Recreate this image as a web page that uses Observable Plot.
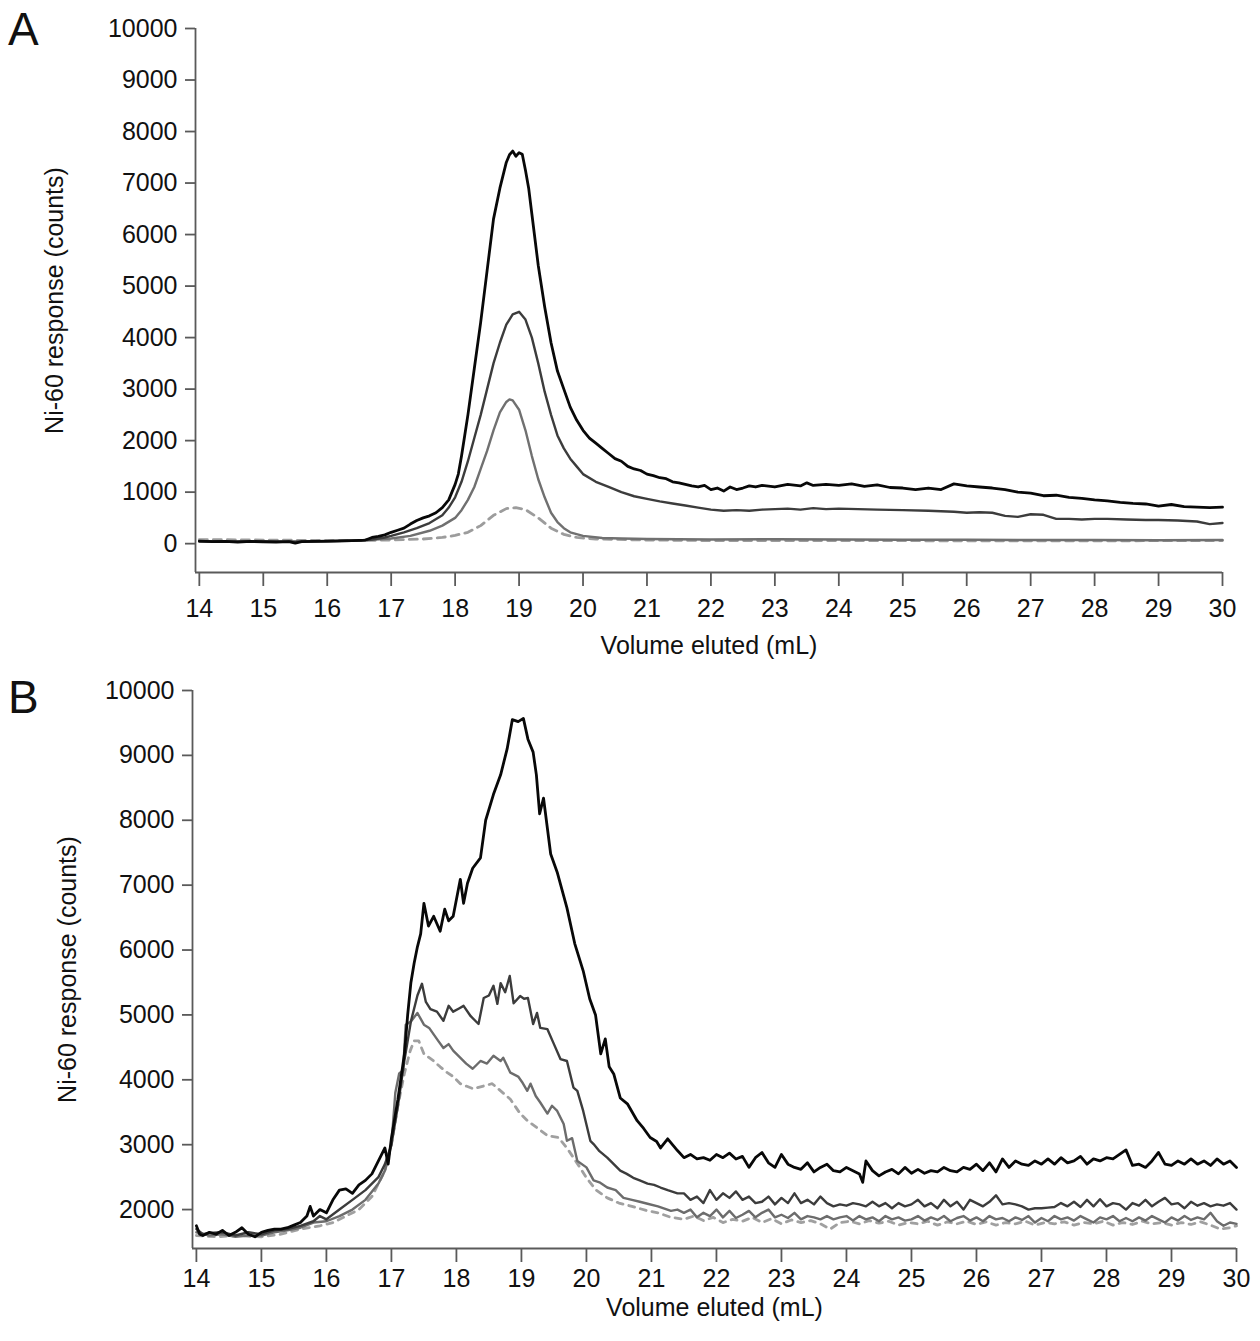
<!DOCTYPE html>
<html>
<head>
<meta charset="utf-8">
<script src="https://cdn.jsdelivr.net/npm/d3@7"></script>
<script src="https://cdn.jsdelivr.net/npm/@observablehq/plot@0.6"></script>
<style>
  html, body { margin: 0; padding: 0; background: #fff; }
  #page { position: relative; width: 1260px; height: 1341px; font-family: "Liberation Sans", Arial, sans-serif; }
  .panel { position: absolute; left: 0; z-index: 1; }
  .tag { position: absolute; left: 8px; font-size: 46px; color: #111; line-height: 1; z-index: 5; }
</style>
</head>
<body>
<div id="page">
  <div class="tag" style="top:6px">A</div>
  <div class="tag" style="top:674px">B</div>
  <div id="pa" class="panel" style="top:0px"></div>
  <div id="pb" class="panel" style="top:665px"></div>
</div>
<script>
// ---------- shared ----------
const xTicks = [14,15,16,17,18,19,20,21,22,23,24,25,26,27,28,29,30];
const yTicks = [0,1000,2000,3000,4000,5000,6000,7000,8000,9000,10000];
const xLabel = "Volume eluted (mL)";
const yLabel = "Ni-60 response (counts)";

// ---------- Panel A ----------
const aX1 = [14.0,14.2,14.4,14.6,14.8,15.0,15.2,15.4,15.5,15.6,15.8,16.0,16.2,16.4,16.6,16.7,16.8,16.9,17.0,17.1,17.2,17.3,17.4,17.5,17.6,17.7,17.8,17.9,18.0,18.05,18.1,18.15,18.2,18.3,18.4,18.5,18.6,18.7,18.8,18.85,18.9,18.95,19.0,19.05,19.1,19.15,19.2,19.3,19.4,19.5,19.6,19.7,19.8,19.9,20.0,20.1,20.2,20.3,20.4,20.5,20.6,20.7,20.8,20.9,21.0,21.1,21.2,21.3,21.4,21.5,21.6,21.7,21.8,21.9,22.0,22.1,22.2,22.3,22.4,22.5,22.6,22.7,22.8,23.0,23.2,23.4,23.5,23.6,23.8,24.0,24.2,24.4,24.6,24.8,25.0,25.2,25.4,25.6,25.8,26.0,26.2,26.4,26.6,26.8,27.0,27.2,27.4,27.6,27.8,28.0,28.2,28.4,28.6,28.8,29.0,29.2,29.4,29.6,29.8,30.0];
const aY1 = [50,40,45,30,45,35,30,40,10,40,45,50,55,60,70,120,140,170,220,260,300,380,450,500,540,600,700,850,1150,1350,1700,2100,2500,3400,4300,5300,6300,6900,7400,7550,7620,7520,7590,7560,7250,6900,6400,5400,4600,3900,3350,3000,2650,2400,2200,2050,1950,1850,1750,1650,1600,1500,1450,1420,1350,1320,1280,1260,1200,1180,1150,1120,1100,1130,1050,1080,1020,1100,1050,1080,1120,1100,1130,1100,1150,1120,1180,1130,1150,1130,1160,1110,1140,1090,1080,1050,1080,1050,1160,1120,1100,1080,1050,1000,980,930,940,900,880,850,830,800,780,770,730,760,720,710,700,710];

const aX2 = [14.0,14.5,15.0,15.5,16.0,16.5,16.7,16.9,17.0,17.2,17.4,17.6,17.8,17.9,18.0,18.1,18.2,18.3,18.4,18.5,18.6,18.7,18.8,18.9,19.0,19.1,19.2,19.3,19.4,19.5,19.6,19.7,19.8,19.9,20.0,20.2,20.4,20.6,20.8,21.0,21.2,21.4,21.6,21.8,22.0,22.2,22.4,22.6,22.8,23.0,23.2,23.4,23.6,23.8,24.0,24.3,24.6,25.0,25.4,25.8,26.0,26.2,26.4,26.6,26.8,27.0,27.2,27.4,27.6,27.8,28.0,28.2,28.5,28.8,29.0,29.3,29.6,29.8,30.0];
const aY2 = [50,45,50,40,50,60,80,120,150,220,300,400,550,700,900,1200,1600,2050,2500,3000,3500,3900,4250,4450,4500,4350,4000,3500,2950,2500,2100,1850,1650,1500,1350,1200,1100,1000,920,870,820,780,740,700,660,640,650,640,660,670,680,660,690,670,680,670,660,650,640,620,600,610,600,540,520,570,560,480,480,470,480,480,470,460,460,450,430,380,400];

const aX3 = [14.0,15.0,16.0,16.5,17.0,17.3,17.6,17.8,18.0,18.1,18.2,18.3,18.4,18.5,18.6,18.7,18.8,18.85,18.9,19.0,19.1,19.2,19.3,19.4,19.5,19.6,19.7,19.8,20.0,20.3,20.6,21.0,22.0,23.0,24.0,25.0,26.0,27.0,28.0,29.0,30.0];
const aY3 = [40,40,40,60,100,150,250,350,500,650,850,1100,1450,1800,2200,2550,2750,2800,2780,2600,2200,1700,1250,900,600,420,300,220,150,110,100,90,80,85,80,75,75,70,70,65,70];

const aX4 = [14.0,15.0,16.0,16.5,17.0,17.5,17.8,18.0,18.2,18.4,18.6,18.8,18.95,19.1,19.3,19.5,19.7,19.9,20.2,21.0,22.0,24.0,26.0,28.0,30.0];
const aY4 = [80,70,60,60,70,90,120,160,220,350,550,680,700,660,500,300,180,120,90,70,60,60,55,55,60];

// ---------- Panel B ----------
const bX1 = [14.0,14.05,14.1,14.2,14.3,14.4,14.5,14.6,14.7,14.8,14.9,15.0,15.1,15.2,15.3,15.4,15.5,15.6,15.7,15.75,15.8,15.9,16.0,16.1,16.2,16.3,16.4,16.5,16.6,16.7,16.8,16.9,16.95,17.0,17.1,17.2,17.25,17.3,17.35,17.4,17.45,17.5,17.57,17.65,17.75,17.82,17.88,17.95,18.06,18.11,18.17,18.25,18.37,18.45,18.57,18.68,18.78,18.86,18.95,19.03,19.1,19.18,19.23,19.28,19.34,19.45,19.55,19.7,19.82,19.95,20.05,20.14,20.22,20.29,20.35,20.42,20.52,20.63,20.78,20.88,20.98,21.08,21.14,21.25,21.4,21.5,21.6,21.7,21.8,21.9,22.0,22.1,22.2,22.3,22.4,22.5,22.6,22.7,22.8,22.9,23.0,23.1,23.2,23.3,23.4,23.5,23.6,23.7,23.8,23.9,24.0,24.1,24.2,24.25,24.3,24.4,24.5,24.6,24.7,24.8,24.9,25.0,25.1,25.2,25.3,25.4,25.5,25.6,25.7,25.8,25.9,26.0,26.1,26.2,26.3,26.4,26.5,26.6,26.7,26.8,26.9,27.0,27.1,27.2,27.3,27.4,27.5,27.6,27.7,27.8,27.9,28.0,28.1,28.2,28.3,28.4,28.5,28.6,28.7,28.8,28.9,29.0,29.1,29.2,29.3,29.4,29.5,29.6,29.7,29.8,29.9,30.0];
const bY1 = [1750,1620,1600,1650,1620,1680,1600,1650,1720,1620,1580,1650,1680,1700,1700,1720,1760,1800,1900,2050,1900,2000,1950,2150,2300,2320,2250,2380,2450,2550,2750,2950,2700,3100,3700,4400,5000,5500,5800,6050,6250,6720,6370,6520,6290,6630,6450,6520,7090,6720,7030,7260,7420,8000,8400,8700,9100,9550,9520,9570,9250,9050,8700,8100,8340,7480,7200,6650,6100,5680,5250,5000,4400,4630,4200,4090,3720,3630,3370,3250,3110,3050,2950,3090,2910,2800,2850,2780,2800,2760,2850,2800,2870,2780,2820,2650,2800,2880,2720,2650,2850,2700,2650,2620,2720,2580,2650,2700,2600,2580,2650,2600,2550,2420,2750,2600,2520,2580,2620,2550,2650,2560,2620,2560,2600,2580,2650,2600,2580,2650,2620,2700,2600,2720,2580,2780,2650,2750,2700,2680,2750,2700,2780,2700,2800,2720,2750,2820,2700,2780,2750,2800,2780,2850,2920,2680,2700,2650,2750,2880,2700,2680,2750,2700,2780,2700,2750,2680,2780,2700,2750,2650];

const bX2 = [14.0,14.1,14.2,14.4,14.6,14.8,15.0,15.2,15.4,15.6,15.8,15.9,16.0,16.2,16.4,16.6,16.8,16.9,17.0,17.1,17.2,17.3,17.4,17.47,17.53,17.6,17.7,17.8,17.88,17.95,18.04,18.11,18.22,18.34,18.42,18.5,18.57,18.63,18.68,18.75,18.82,18.88,18.98,19.04,19.1,19.18,19.24,19.29,19.4,19.5,19.6,19.7,19.8,19.86,19.95,20.06,20.11,20.2,20.32,20.42,20.52,20.62,20.72,20.82,20.94,21.04,21.14,21.25,21.4,21.5,21.6,21.7,21.8,21.9,22.0,22.1,22.2,22.3,22.4,22.5,22.6,22.7,22.8,22.9,23.0,23.1,23.2,23.3,23.4,23.5,23.6,23.7,23.8,23.9,24.0,24.1,24.2,24.3,24.4,24.5,24.6,24.7,24.8,24.9,25.0,25.1,25.2,25.3,25.4,25.5,25.6,25.7,25.8,25.9,26.0,26.1,26.2,26.3,26.4,26.5,26.6,26.7,26.8,26.9,27.0,27.1,27.2,27.3,27.4,27.5,27.6,27.7,27.8,27.9,28.0,28.1,28.2,28.3,28.4,28.5,28.6,28.7,28.8,28.9,29.0,29.1,29.2,29.3,29.4,29.5,29.6,29.7,29.8,29.9,30.0];
const bY2 = [1700,1620,1640,1650,1600,1650,1620,1680,1700,1750,1820,1900,1850,2000,2150,2300,2500,2700,3000,3600,4300,4900,5300,5480,5200,5090,5050,4910,5140,5050,5100,5140,4980,4860,5260,5300,5450,5170,5490,5350,5600,5180,5290,5250,5260,4860,5030,4800,4780,4550,4320,4290,3880,3830,3520,3060,3010,2900,2800,2700,2600,2550,2490,2450,2400,2380,2340,2300,2250,2250,2150,2200,2100,2300,2150,2250,2180,2280,2150,2200,2100,2120,2200,2080,2180,2100,2250,2100,2150,2080,2200,2100,2050,2080,2060,2100,2080,2050,2120,2050,2100,2020,2100,2050,2080,2150,2050,2100,2020,2150,2050,2120,2000,2150,2100,2050,2120,2220,2080,2100,2080,2050,2000,2020,2020,2030,2040,2100,2050,2120,2040,2150,2050,2160,2050,2100,2080,2000,2100,2060,2150,2050,2120,2180,2080,2100,2020,2120,2060,2100,2050,2080,2060,2100,2000];

const bX3 = [14.0,14.2,14.4,14.6,14.8,15.0,15.2,15.4,15.6,15.8,16.0,16.2,16.4,16.6,16.8,16.9,17.0,17.06,17.12,17.18,17.22,17.3,17.4,17.5,17.58,17.65,17.72,17.8,17.88,17.95,18.05,18.15,18.25,18.37,18.47,18.57,18.68,18.72,18.83,18.95,19.02,19.09,19.14,19.22,19.29,19.4,19.47,19.55,19.65,19.7,19.78,19.86,20.0,20.11,20.2,20.32,20.45,20.57,20.7,20.82,20.94,21.1,21.3,21.4,21.5,21.6,21.7,21.8,21.9,22.0,22.1,22.2,22.3,22.4,22.5,22.6,22.7,22.8,22.9,23.0,23.1,23.2,23.3,23.4,23.5,23.6,23.7,23.8,23.9,24.0,24.1,24.2,24.3,24.4,24.5,24.6,24.7,24.8,24.9,25.0,25.1,25.2,25.3,25.4,25.5,25.6,25.7,25.8,25.9,26.0,26.1,26.2,26.3,26.4,26.5,26.6,26.7,26.8,26.9,27.0,27.1,27.2,27.3,27.4,27.5,27.6,27.7,27.8,27.9,28.0,28.1,28.2,28.3,28.4,28.5,28.6,28.7,28.8,28.9,29.0,29.1,29.2,29.3,29.4,29.5,29.6,29.7,29.8,29.9,30.0];
const bY3 = [1650,1600,1620,1580,1600,1600,1650,1680,1720,1800,1820,1900,2000,2150,2400,2600,3000,3800,4100,4150,4850,4900,5030,4850,4800,4700,4600,4490,4550,4450,4350,4250,4170,4290,4250,4370,4290,4340,4110,4050,3950,3830,3940,3750,3650,3480,3600,3520,3320,3060,3100,2750,2650,2450,2420,2340,2300,2180,2150,2120,2090,2050,1980,2000,1950,2000,1880,1950,1900,2000,1880,1980,1870,1920,1980,1880,1950,2000,1880,1920,1870,1950,1850,1900,1880,1850,1900,1850,1880,1900,1830,1900,1850,1880,1820,1900,1850,1880,1830,1850,1900,1830,1880,1840,1900,1820,1870,1900,1830,1880,1820,1900,1850,1870,1820,1880,1840,1900,1800,1870,1820,1900,1850,1880,1830,1900,1850,1800,1880,1850,1900,1820,1870,1820,1880,1830,1900,1850,1800,1880,1830,1900,1840,1880,1850,1950,1820,1750,1800,1780];

const bX4 = [14.0,14.3,14.6,15.0,15.3,15.6,15.9,16.1,16.3,16.5,16.7,16.9,17.0,17.1,17.2,17.29,17.35,17.42,17.5,17.65,17.75,17.86,17.95,18.06,18.16,18.26,18.4,18.55,18.68,18.83,18.98,19.09,19.24,19.4,19.57,19.7,19.8,19.9,20.0,20.15,20.32,20.5,20.7,20.94,21.1,21.3,21.5,21.65,21.8,21.95,22.1,22.25,22.4,22.55,22.7,22.85,23.0,23.15,23.3,23.45,23.6,23.75,23.9,24.05,24.2,24.35,24.5,24.65,24.8,24.95,25.1,25.25,25.4,25.55,25.7,25.85,26.0,26.15,26.3,26.45,26.6,26.75,26.9,27.05,27.2,27.35,27.5,27.65,27.8,27.95,28.1,28.25,28.4,28.55,28.7,28.85,29.0,29.15,29.3,29.45,29.6,29.75,29.9,30.0];
const bY4 = [1600,1580,1600,1580,1620,1700,1750,1800,1900,2000,2200,2600,3000,3600,4100,4450,4600,4600,4400,4290,4200,4110,4050,3940,3900,3860,3900,3940,3830,3700,3480,3370,3260,3140,3110,2950,2800,2650,2490,2300,2180,2100,2050,1980,1950,1880,1850,1900,1830,1880,1800,1850,1820,1880,1800,1860,1780,1840,1800,1830,1780,1700,1800,1820,1780,1830,1790,1820,1760,1800,1780,1820,1760,1810,1780,1820,1770,1810,1760,1800,1780,1820,1760,1800,1780,1810,1760,1800,1780,1820,1760,1800,1770,1820,1780,1800,1760,1800,1770,1810,1760,1700,1720,1750];

// ---------- helpers ----------
const pts = (xs, ys) => xs.map((x, i) => ({x, y: ys[i]}));
const baseStyle = {fontFamily: "'Liberation Sans', Arial, sans-serif", fontSize: "25px", color: "#111", background: "transparent", overflow: "visible"};
const axisColor = "#5a5a5a";

function panel({xDom, yDom, series, yLabelOffset, marginLeft, marginRight, marginTop, marginBottom, height, xLabelOffset, xTickPadding}) {
  return Plot.plot({
    width: 1260,
    height,
    marginLeft, marginRight, marginTop, marginBottom,
    style: baseStyle,
    x: {domain: xDom},
    y: {domain: yDom},
    marks: [
      Plot.ruleX([xDom[0]], {stroke: axisColor, strokeWidth: 1.8}),
      Plot.ruleY([yDom[0]], {stroke: axisColor, strokeWidth: 1.8}),
      Plot.axisY({ticks: yTicks.filter(t => t >= yDom[0]), tickSize: 10, tickPadding: 8, tickFormat: d => String(d), stroke: axisColor, strokeWidth: 1.8,
        label: yLabel, labelAnchor: "center", labelArrow: "none", labelOffset: yLabelOffset}),
      Plot.axisX({ticks: xTicks, tickSize: 14, tickPadding: xTickPadding, tickFormat: d => String(d), stroke: axisColor, strokeWidth: 1.8,
        label: xLabel, labelAnchor: "center", labelArrow: "none", labelOffset: xLabelOffset}),
      ...series.map(s => Plot.line(s.data, {x: "x", y: "y", stroke: s.color, strokeWidth: s.width, strokeDasharray: s.dash, curve: "linear"}))
    ]
  });
}

const chartA = panel({
  xDom: [13.94, 30], yDom: [-560, 10000],
  marginLeft: 195, marginRight: 38, marginTop: 28, marginBottom: 93, height: 665,
  yLabelOffset: 150, xLabelOffset: 81, xTickPadding: 13,
  series: [
    {data: pts(aX4, aY4), color: "#9c9c9c", width: 2.8, dash: "8,6"},
    {data: pts(aX3, aY3), color: "#707070", width: 2.4},
    {data: pts(aX2, aY2), color: "#3c3c3c", width: 2.4},
    {data: pts(aX1, aY1), color: "#080808", width: 2.8}
  ]
});
const chartB = panel({
  xDom: [13.94, 30], yDom: [1400, 10000],
  marginLeft: 192, marginRight: 24, marginTop: 25, marginBottom: 93, height: 676,
  yLabelOffset: 134, xLabelOffset: 67, xTickPadding: 7,
  series: [
    {data: pts(bX4, bY4), color: "#a0a0a0", width: 2.8, dash: "6,6"},
    {data: pts(bX3, bY3), color: "#6c6c6c", width: 2.4},
    {data: pts(bX2, bY2), color: "#3c3c3c", width: 2.4},
    {data: pts(bX1, bY1), color: "#080808", width: 2.8}
  ]
});
document.getElementById("pa").appendChild(chartA);
document.getElementById("pb").appendChild(chartB);
</script>
</body>
</html>
